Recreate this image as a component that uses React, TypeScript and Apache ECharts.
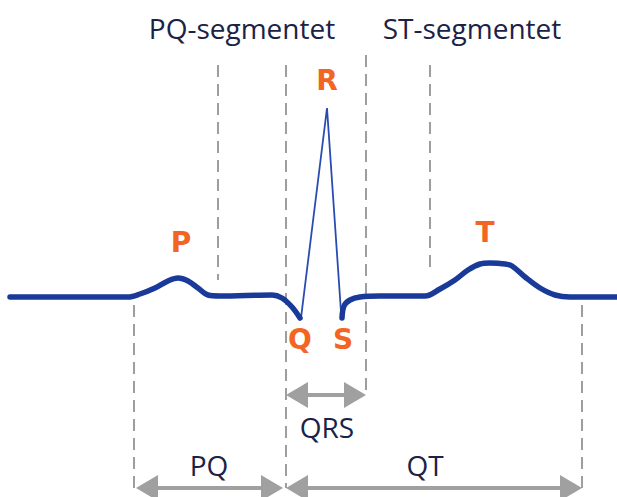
import React, { useEffect, useRef } from "react";
import * as echarts from "echarts";

// ECG waveform (time in ms, amplitude in mV)
const ecgTime1 = [0, 236, 260, 290, 316, 336, 356, 376, 396, 420, 524, 544, 564, 580];
const ecgVolt1 = [0, 0, 0.03, 0.09, 0.16, 0.19, 0.16, 0.09, 0.02, 0.01, 0.02, -0.01, -0.1, -0.21];

const qrsTime = [582, 634, 662];
const qrsVolt = [-0.21, 1.89, -0.15];

const ecgTime2 = [664, 668, 680, 700, 740, 830, 860, 890, 916, 940, 960, 990, 1004, 1030, 1060, 1090, 1120, 1214];
const ecgVolt2 = [-0.21, -0.09, -0.03, 0, 0.01, 0.01, 0.08, 0.17, 0.27, 0.33, 0.34, 0.33, 0.31, 0.2, 0.09, 0.02, 0, 0];

// Dashed guide lines
const guideTime = [248, 416, 552, 712, 840, 1144];
const guideTop = [-0.08, 2.32, 2.32, 2.42, 2.32, -0.08];
const guideBottom = [-1.91, 0.17, -1.91, -0.95, 0.27, -1.91];

// Interval arrows
const spanNames = ["QRS", "PQ", "QT"];
const spanStart = [552, 252, 552];
const spanEnd = [712, 546, 1144];
const spanLevel = [-0.98, -1.91, -1.91];
const spanLabelTime = [634, 398, 830];
const spanLabelVolt = [-1.3, -1.68, -1.68];

// Wave labels
const waveNames = ["P", "Q", "R", "S", "T"];
const waveTime = [342, 580, 634, 666, 950];
const waveVolt = [0.55, -0.42, 2.17, -0.42, 0.65];

// Segment titles
const segNames = ["PQ-segmentet", "ST-segmentet"];
const segTime = [464, 924];
const segVolt = [2.69, 2.69];

const X_MIN = -20;
const X_MAX = 1214;
const Y_MIN = -2.0;
const Y_MAX = 2.97;
const WIDTH = 617;
const HEIGHT = 497;

export default function App() {
  const ref = useRef<HTMLDivElement>(null);
  useEffect(() => {
    document.body.style.margin = "0";
    const chart = echarts.init(ref.current!, null, { renderer: "svg" });
    const msPerPx = (X_MAX - X_MIN) / WIDTH;
    const headLen = 22;
    const inset = (headLen / 2) * msPerPx;

    const zip = (a: number[], b: number[]) => a.map((v, i) => [v, b[i]]);

    const navyLabel = {
      fontFamily: "Open Sans",
      fontSize: 28,
      color: "#1b2246",
    };
    const orangeLabel = {
      fontFamily: "DejaVu Sans",
      fontWeight: "bold" as const,
      fontSize: 28,
      color: "#f26522",
    };

    const textSeries = (names: string[], t: number[], v: number[], style: any, name: string) => ({
      type: "scatter",
      name,
      silent: true,
      z: 10,
      symbol: "circle",
      symbolSize: 1,
      itemStyle: { color: "rgba(0,0,0,0)", opacity: 1 },
      label: {
        show: true,
        position: "inside",
        opacity: 1,
        formatter: (p: any) => p.data[2],
        ...style,
      },
      data: names.map((n, i) => [t[i], v[i], n]),
    });

    const option: any = {
      animation: false,
      grid: { left: 0, right: 0, top: 0, bottom: 0, containLabel: false },
      xAxis: { type: "value", min: X_MIN, max: X_MAX, show: false },
      yAxis: { type: "value", min: Y_MIN, max: Y_MAX, show: false },
      series: [
        {
          type: "line",
          name: "guides",
          data: [],
          silent: true,
          z: 1,
          markLine: {
            silent: true,
            symbol: ["none", "none"],
            label: { show: false },
            lineStyle: { color: "#7f7f7f", width: 1.5, type: [12, 7] },
            emphasis: { disabled: true },
            data: guideTime.map((t, i) => [
              { coord: [t, guideTop[i]] },
              { coord: [t, guideBottom[i]] },
            ]),
          },
        },
        {
          type: "line",
          name: "spans",
          data: [],
          silent: true,
          z: 2,
          markLine: {
            silent: true,
            symbol: ["triangle", "triangle"],
            symbolSize: [26, headLen],
            label: { show: false },
            lineStyle: { color: "#a0a0a0", width: 4, type: "solid" },
            emphasis: { disabled: true },
            data: spanNames.map((n, i) => [
              { name: n, coord: [spanStart[i] + inset, spanLevel[i]] },
              { coord: [spanEnd[i] - inset, spanLevel[i]] },
            ]),
          },
        },
        {
          type: "line",
          name: "ecg1",
          data: zip(ecgTime1, ecgVolt1),
          smooth: 0.35,
          showSymbol: false,
          silent: true,
          z: 5,
          lineStyle: { color: "#1a3a9a", width: 5.5, cap: "round", join: "round" },
        },
        {
          type: "line",
          name: "qrs",
          data: zip(qrsTime, qrsVolt),
          showSymbol: false,
          silent: true,
          z: 4,
          lineStyle: { color: "#2a4cb2", width: 1.8 },
        },
        {
          type: "line",
          name: "ecg2",
          data: zip(ecgTime2, ecgVolt2),
          smooth: 0.35,
          showSymbol: false,
          silent: true,
          z: 5,
          lineStyle: { color: "#1a3a9a", width: 5.5, cap: "round", join: "round" },
        },
        textSeries(segNames, segTime, segVolt, navyLabel, "segments"),
        textSeries(spanNames, spanLabelTime, spanLabelVolt, navyLabel, "intervals"),
        textSeries(waveNames, waveTime, waveVolt, orangeLabel, "waves"),
      ],
    };
    chart.setOption(option);
    return () => chart.dispose();
  }, []);
  return <div ref={ref} style={{ width: WIDTH, height: HEIGHT }} />;
}
